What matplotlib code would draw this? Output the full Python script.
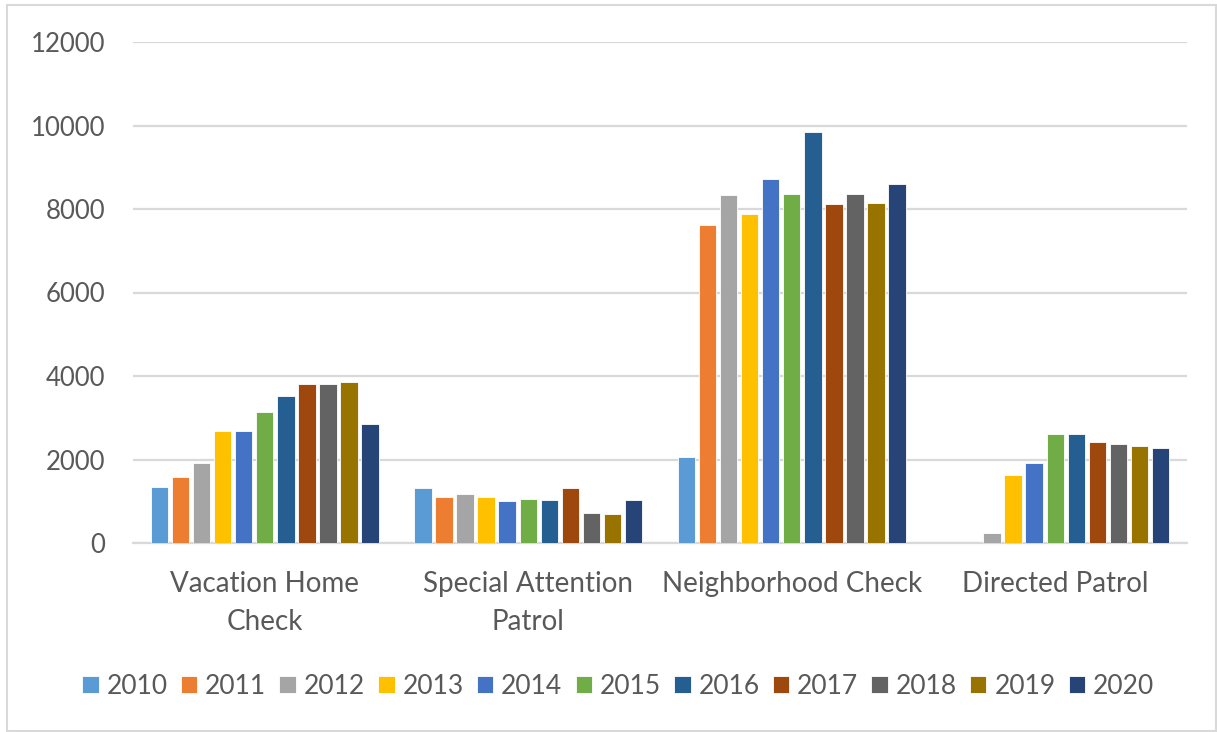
import numpy as np
import matplotlib.pyplot as plt
from matplotlib.patches import Rectangle

# Chart data
categories = ['Vacation Home\nCheck', 'Special Attention\nPatrol', 'Neighborhood Check', 'Directed Patrol']
years = ['2010', '2011', '2012', '2013', '2014', '2015', '2016', '2017', '2018', '2019', '2020']

vacation_home = [1340, 1575, 1915, 2680, 2680, 3130, 3515, 3815, 3800, 3850, 2845]
special_attention = [1310, 1110, 1180, 1110, 1005, 1060, 1020, 1310, 715, 700, 1040]
neighborhood = [2060, 7610, 8330, 7890, 8720, 8350, 9840, 8120, 8350, 8145, 8600]
directed = [0, 0, 250, 1640, 1905, 2610, 2610, 2415, 2370, 2315, 2275]

colors = ['#5B9BD5', '#ED7D31', '#A5A5A5', '#FFC000', '#4472C4', '#70AD47',
          '#255E91', '#9E480E', '#636363', '#997300', '#264478']

data = np.array([vacation_home, special_attention, neighborhood, directed])

plt.rcParams['font.family'] = ['Lato', 'DejaVu Sans']
text_color = '#595959'

fig = plt.figure(figsize=(12.17, 7.32), dpi=100)
ax = fig.add_axes([133 / 1217, 1 - 543 / 732, (1187 - 133) / 1217, (543 - 42) / 732])

x = np.arange(len(categories))
slot = 0.08
width = 0.066
for i, year in enumerate(years):
    offset = (i - (len(years) - 1) / 2) * slot
    ax.bar(x + offset, data[:, i], width=width, color=colors[i],
           edgecolor='white', linewidth=0.6, label=year, zorder=3)

ax.set_xlim(-0.5, len(categories) - 0.5)
ax.set_ylim(0, 12000)
ax.set_yticks(np.arange(0, 12001, 2000))
ax.set_xticks(x)
ax.set_xticklabels(categories, fontsize=20, color=text_color, linespacing=1.6)
ax.tick_params(axis='y', labelsize=18.5, labelcolor=text_color, length=0, pad=20)
ax.tick_params(axis='x', length=0, pad=20)
ax.grid(axis='y', color='#D9D9D9', linewidth=1.6, zorder=0)
for side in ['top', 'right', 'left']:
    ax.spines[side].set_visible(False)
ax.spines['bottom'].set_color('#D9D9D9')
ax.spines['bottom'].set_linewidth(1.6)

fig.legend(loc='center', bbox_to_anchor=(0.508, 1 - 686 / 732), ncol=11,
           frameon=False, fontsize=19, handlelength=0.62, handleheight=0.62,
           handletextpad=0.3, columnspacing=0.5, labelcolor=text_color)

# light chart border
fig.patches.append(Rectangle((7 / 1217, 0.002), 1 - 8 / 1217, 1 - 6 / 732,
                             transform=fig.transFigure, fill=False,
                             edgecolor='#D9D9D9', linewidth=1.5))

fig.savefig('out.png', dpi=100)
plt.close(fig)
